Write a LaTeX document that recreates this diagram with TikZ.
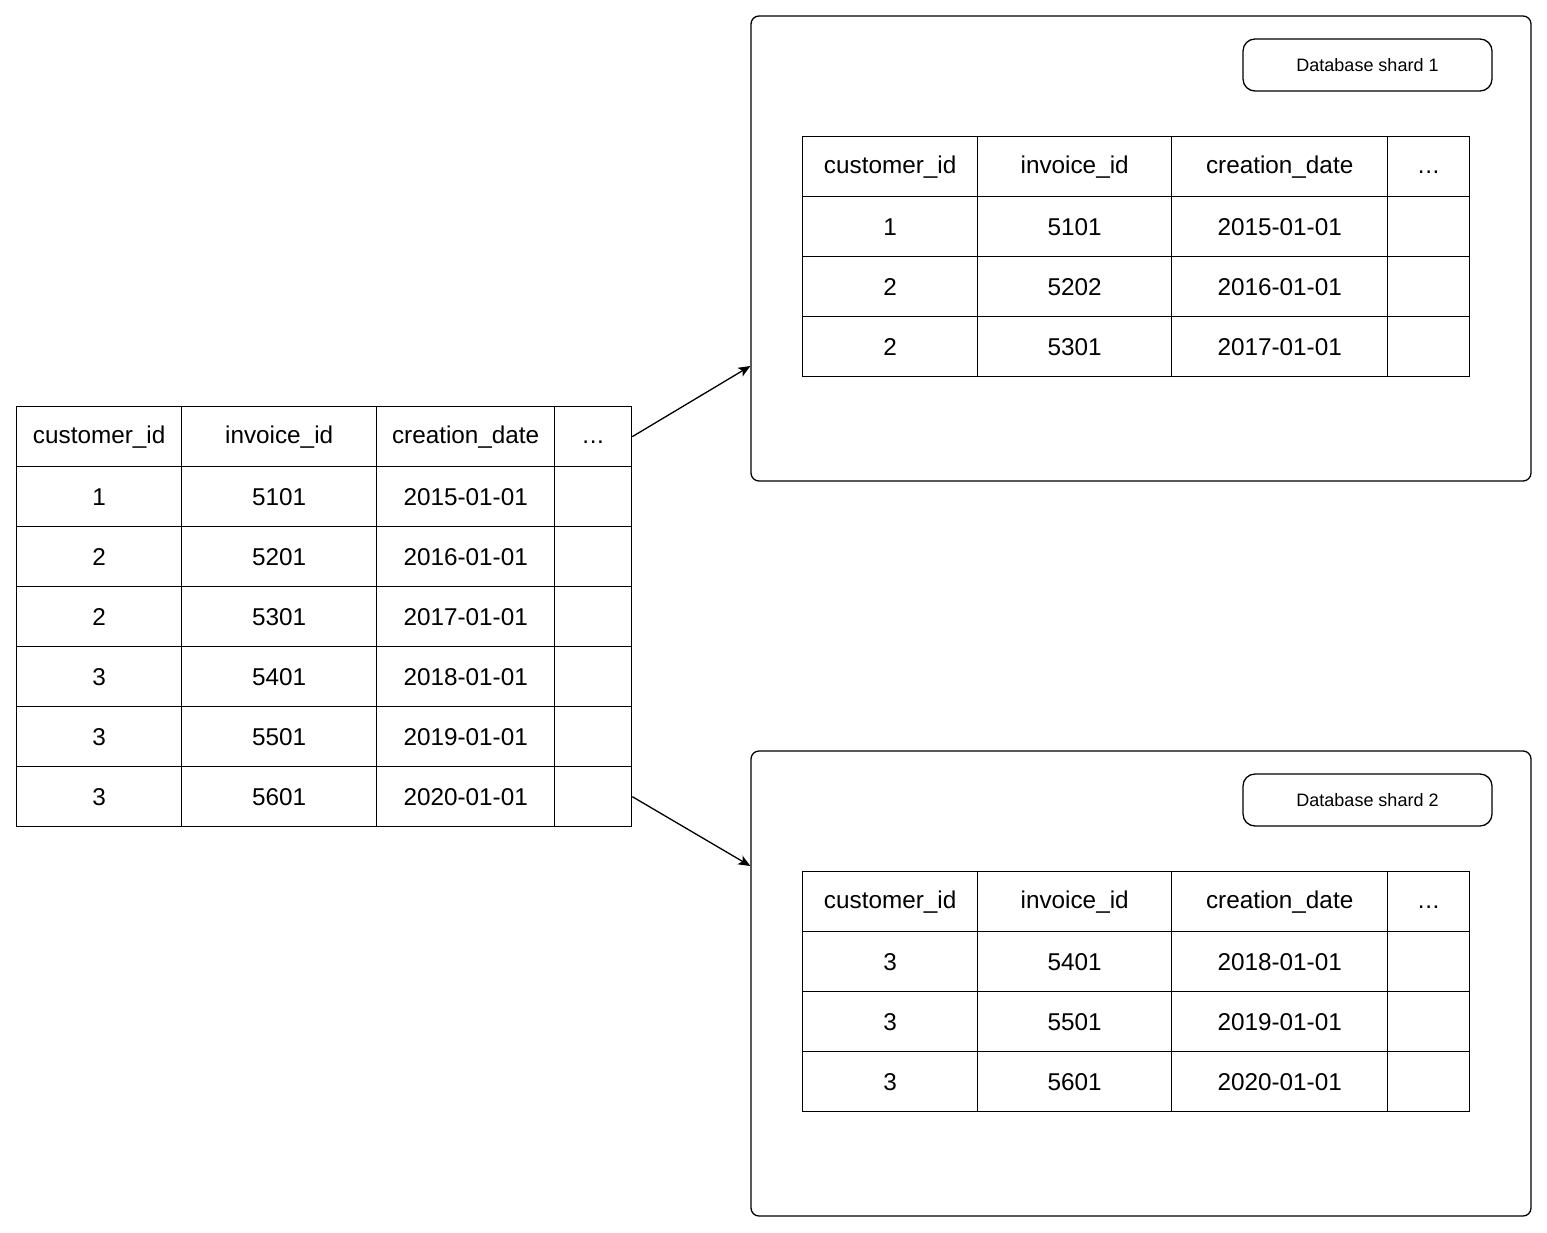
\documentclass[tikz,border=0pt]{standalone}
\usepackage{fontspec}
\setmainfont{Liberation Sans}
\usetikzlibrary{arrows.meta,calc}
\newcommand\threedots{\vphantom{customer\_id}.\kern0.6pt.\kern0.6pt.}
\begin{document}
\begin{tikzpicture}[x=1pt,y=-1pt,
  cell/.style={draw, line width=1.3pt, minimum height=60pt, inner sep=0pt, font=\fontsize{24.3}{28}\selectfont, anchor=north west},
  shardbox/.style={draw, line width=1.3pt, rounded corners=8pt, minimum width=780pt, minimum height=465pt, inner sep=0pt},
  tagbox/.style={draw, line width=1.3pt, rounded corners=12pt, minimum width=249pt, minimum height=52pt, inner sep=0pt, font=\fontsize{18}{21}\selectfont},
  link/.style={line width=1.3pt, -{Stealth[length=12pt,width=10pt,inset=3pt]}}]
\useasboundingbox (0,0) rectangle (1547,1232);
% main table
\node[cell, minimum width=165pt] (m-0-1) at (16,406) {customer\_id};
\node[cell, minimum width=195pt] (m-0-2) at (181,406) {invoice\_id};
\node[cell, minimum width=178pt] (m-0-3) at (376,406) {creation\_date};
\node[cell, minimum width=77pt] (m-0-4) at (554,406) {\threedots};
\foreach \r/\a/\b/\c in {1/1/5101/2015-01-01,2/2/5201/2016-01-01,3/2/5301/2017-01-01,4/3/5401/2018-01-01,5/3/5501/2019-01-01,6/3/5601/2020-01-01}{
  \node[cell, minimum width=165pt] (m-\r-1) at (16,406+60*\r) {\a};
  \node[cell, minimum width=195pt] (m-\r-2) at (181,406+60*\r) {\b};
  \node[cell, minimum width=178pt] (m-\r-3) at (376,406+60*\r) {\c};
  \node[cell, minimum width=77pt] (m-\r-4) at (554,406+60*\r) {};
}
% shard boxes
\node[shardbox] (s1) at (1141,248.5) {};
\node[shardbox] (s2) at (1141,983.5) {};
\node[tagbox] (t1) at (1367.5,65) {Database shard 1};
\node[tagbox] (t2) at (1367.5,800) {Database shard 2};
% shard tables
\foreach \s/\y/\rows in {1/136/{1/1/5101/2015-01-01,2/2/5202/2016-01-01,3/2/5301/2017-01-01},2/871/{1/3/5401/2018-01-01,2/3/5501/2019-01-01,3/3/5601/2020-01-01}}{
  \node[cell, minimum width=175pt] (s\s-0-1) at (802,\y) {customer\_id};
  \node[cell, minimum width=194pt] (s\s-0-2) at (977,\y) {invoice\_id};
  \node[cell, minimum width=216pt] (s\s-0-3) at (1171,\y) {creation\_date};
  \node[cell, minimum width=82pt] (s\s-0-4) at (1387,\y) {\threedots};
  \foreach \r/\a/\b/\c in \rows {
    \node[cell, minimum width=175pt] (s\s-\r-1) at (802,\y+60*\r) {\a};
    \node[cell, minimum width=194pt] (s\s-\r-2) at (977,\y+60*\r) {\b};
    \node[cell, minimum width=216pt] (s\s-\r-3) at (1171,\y+60*\r) {\c};
    \node[cell, minimum width=82pt] (s\s-\r-4) at (1387,\y+60*\r) {};
  }
}
% arrows
\draw[link] (m-0-4.east) -- ($(s1.west)+(0,117.5)$);
\draw[link] (m-6-4.east) -- ($(s2.west)+(0,-117.5)$);
\end{tikzpicture}
\end{document}
